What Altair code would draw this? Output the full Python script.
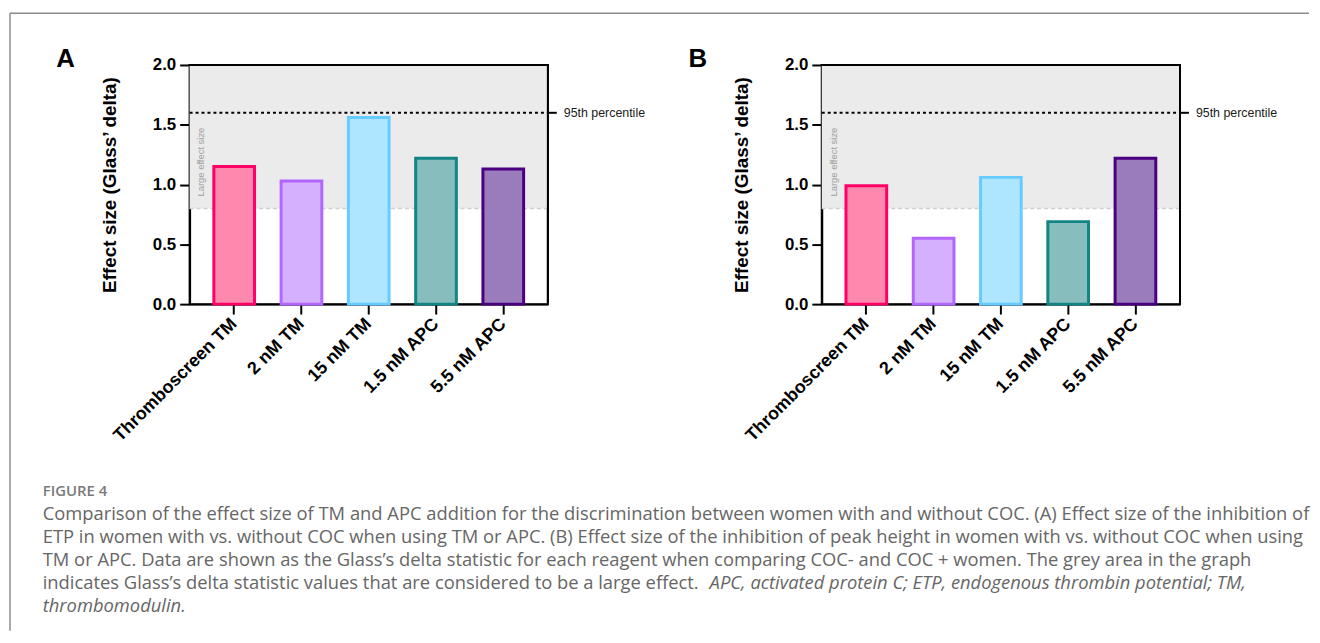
import altair as alt
import pandas as pd

# ---------------- data ----------------
categories = ["Thromboscreen TM", "2 nM TM", "15 nM TM", "1.5 nM APC", "5.5 nM APC"]
values_a = [1.15, 1.03, 1.56, 1.22, 1.13]
values_b = [0.99, 0.55, 1.06, 0.69, 1.22]
fill_colors = ["#FF88AE", "#D5B0FF", "#AEE6FF", "#88BDBD", "#9A7BBB"]
stroke_colors = ["#FF0066", "#B266FF", "#66CCFF", "#138484", "#4B0082"]
y_ticks = [0.0, 0.5, 1.0, 1.5, 2.0]
y_max = [2.0]
large_effect = [0.8]
large_effect_label_pos = [0.9]
percentile_95 = [1.6]
panel_letters = ["A", "B"]
y_title = "Effect size (Glass\u2019 delta)"
figure_label = "FIGURE 4"
caption_lines = [
    "Comparison of the effect size of TM and APC addition for the discrimination between women with and without COC. (A) Effect size of the inhibition of",
    "ETP in women with vs. without COC when using TM or APC. (B) Effect size of the inhibition of peak height in women with vs. without COC when using",
    "TM or APC. Data are shown as the Glass\u2019s delta statistic for each reagent when comparing COC- and COC + women. The grey area in the graph",
    "indicates Glass\u2019s delta statistic values that are considered to be a large effect.",
]
caption_italic_tail = "APC, activated protein C; ETP, endogenous thrombin potential; TM,"
caption_italic_last = "thrombomodulin."

W, H = 361, 241
FONT = "Liberation Sans"
CAP_FONT = "Open Sans"
CAP_SIZE = 18.5


def panel(values, letter, with_caption):
    bars_df = pd.DataFrame({"cat": categories, "v": values})
    yscale = alt.Scale(domain=[0, 2], nice=False, zero=True)
    yaxis = alt.Axis(values=y_ticks, format=".1f", title=y_title, grid=False,
                     labelFontSize=17, labelFontWeight="bold", labelPadding=4,
                     tickSize=10, titleFontSize=19, titleFontWeight="bold",
                     titlePadding=33)
    xaxis = alt.Axis(title=None, labelAngle=-45, labelAlign="right", grid=False,
                     labelBaseline="middle", labelPadding=7, labelFontSize=18,
                     labelFontWeight="bold", tickSize=10, labelLimit=400,
                     labelOverlap=False)

    shade = alt.Chart(pd.DataFrame({"v": large_effect, "v2": y_max})).mark_rect(
        color="#EBEBEB").encode(
        x=alt.value(0), x2=alt.value(W),
        y=alt.Y("v:Q", scale=yscale, axis=yaxis), y2="v2:Q")

    thresh = alt.Chart(pd.DataFrame({"v": large_effect})).mark_rule(
        color="#CFCFCF", strokeWidth=1.5, strokeDash=[4, 3]).encode(
        x=alt.value(0), x2=alt.value(W), y=alt.Y("v:Q"))

    bars = alt.Chart(bars_df).mark_bar(strokeWidth=3, opacity=1).encode(
        x=alt.X("cat:N", sort=categories,
                scale=alt.Scale(paddingInner=0.395, paddingOuter=0.36),
                axis=xaxis),
        y=alt.Y("v:Q"),
        color=alt.Color("cat:N", scale=alt.Scale(domain=categories, range=fill_colors), legend=None),
        stroke=alt.Stroke("cat:N", scale=alt.Scale(domain=categories, range=stroke_colors), legend=None),
    )

    p95_df = pd.DataFrame({"v": percentile_95, "label": ["95th percentile"]})
    p95 = alt.Chart(p95_df).mark_rule(color="black", strokeWidth=2, strokeDash=[3, 3]).encode(
        x=alt.value(0), x2=alt.value(W), y=alt.Y("v:Q"))
    p95_tick = alt.Chart(p95_df).mark_rule(color="black", strokeWidth=2).encode(
        x=alt.value(W), x2=alt.value(W + 9), y=alt.Y("v:Q"))
    p95_text = alt.Chart(p95_df).mark_text(
        align="left", baseline="middle", fontSize=12.5, font=FONT, color="#1a1a1a").encode(
        x=alt.value(W + 16), y=alt.Y("v:Q"), text="label:N")

    le_df = pd.DataFrame({"v": large_effect_label_pos, "label": ["Large effect size"]})
    le_text = alt.Chart(le_df).mark_text(
        angle=270, align="left", baseline="middle", fontSize=9.5, font=FONT,
        color="#9E9E9E").encode(x=alt.value(12), y=alt.Y("v:Q"), text="label:N")

    letter_df = pd.DataFrame({"label": [letter]})
    letter_text = alt.Chart(letter_df).mark_text(
        fontSize=26, fontWeight="bold", font=FONT, align="center",
        baseline="alphabetic", color="black").encode(
        x=alt.value(-125), y=alt.value(2), text="label:N")

    border_df = pd.DataFrame({"k": [0]})
    border_top = alt.Chart(border_df).mark_rule(color="black", strokeWidth=2).encode(
        x=alt.value(-1), x2=alt.value(W + 1), y=alt.value(0))
    border_right = alt.Chart(border_df).mark_rule(color="black", strokeWidth=2).encode(
        x=alt.value(W), y=alt.value(0), y2=alt.value(H))

    layers = [shade, thresh, bars, p95, p95_tick, p95_text, le_text, letter_text,
              border_top, border_right]

    if with_caption:
        frame_df = pd.DataFrame({"k": [0]})
        frame_top = alt.Chart(frame_df).mark_rule(color="#8C8C8C", strokeWidth=1.5).encode(
            x=alt.value(-181), x2=alt.value(1128), y=alt.value(-52))
        frame_left = alt.Chart(frame_df).mark_rule(color="#8C8C8C", strokeWidth=1.5).encode(
            x=alt.value(-181), y=alt.value(-52), y2=alt.value(570))
        fig = alt.Chart(pd.DataFrame({"label": [figure_label]})).mark_text(
            align="left", baseline="alphabetic", fontSize=15, font=CAP_FONT,
            fontWeight=600, color="#7A7A7A").encode(
            x=alt.value(-148), y=alt.value(434), text="label:N")
        layers += [frame_top, frame_left, fig]
        for i, line in enumerate(caption_lines):
            layers.append(alt.Chart(pd.DataFrame({"label": [line]})).mark_text(
                align="left", baseline="alphabetic", fontSize=CAP_SIZE, font=CAP_FONT,
                color="#666666").encode(
                x=alt.value(-148), y=alt.value(459 + 23 * i), text="label:N"))
        layers.append(alt.Chart(pd.DataFrame({"label": [caption_italic_tail]})).mark_text(
            align="left", baseline="alphabetic", fontSize=CAP_SIZE, font=CAP_FONT,
            fontStyle="italic", color="#666666").encode(
            x=alt.value(524), y=alt.value(459 + 23 * 3), text="label:N"))
        layers.append(alt.Chart(pd.DataFrame({"label": [caption_italic_last]})).mark_text(
            align="left", baseline="alphabetic", fontSize=CAP_SIZE, font=CAP_FONT,
            fontStyle="italic", color="#666666").encode(
            x=alt.value(-148), y=alt.value(459 + 23 * 4), text="label:N"))

    return alt.layer(*layers).properties(width=W, height=H)


chart = alt.hconcat(
    panel(values_a, panel_letters[0], True),
    panel(values_b, panel_letters[1], False),
    spacing=276, bounds="flush",
).properties(
    padding={"left": 0, "top": 1, "right": 0, "bottom": 0},
    background="white",
).configure_view(
    stroke="black", strokeWidth=2
).configure_axis(
    domainColor="black", domainWidth=2, tickColor="black", tickWidth=2,
    labelColor="black", titleColor="black", labelFont=FONT, titleFont=FONT,
    grid=False
)

chart.save("out.html", embed_options={"renderer": "svg", "actions": False})
